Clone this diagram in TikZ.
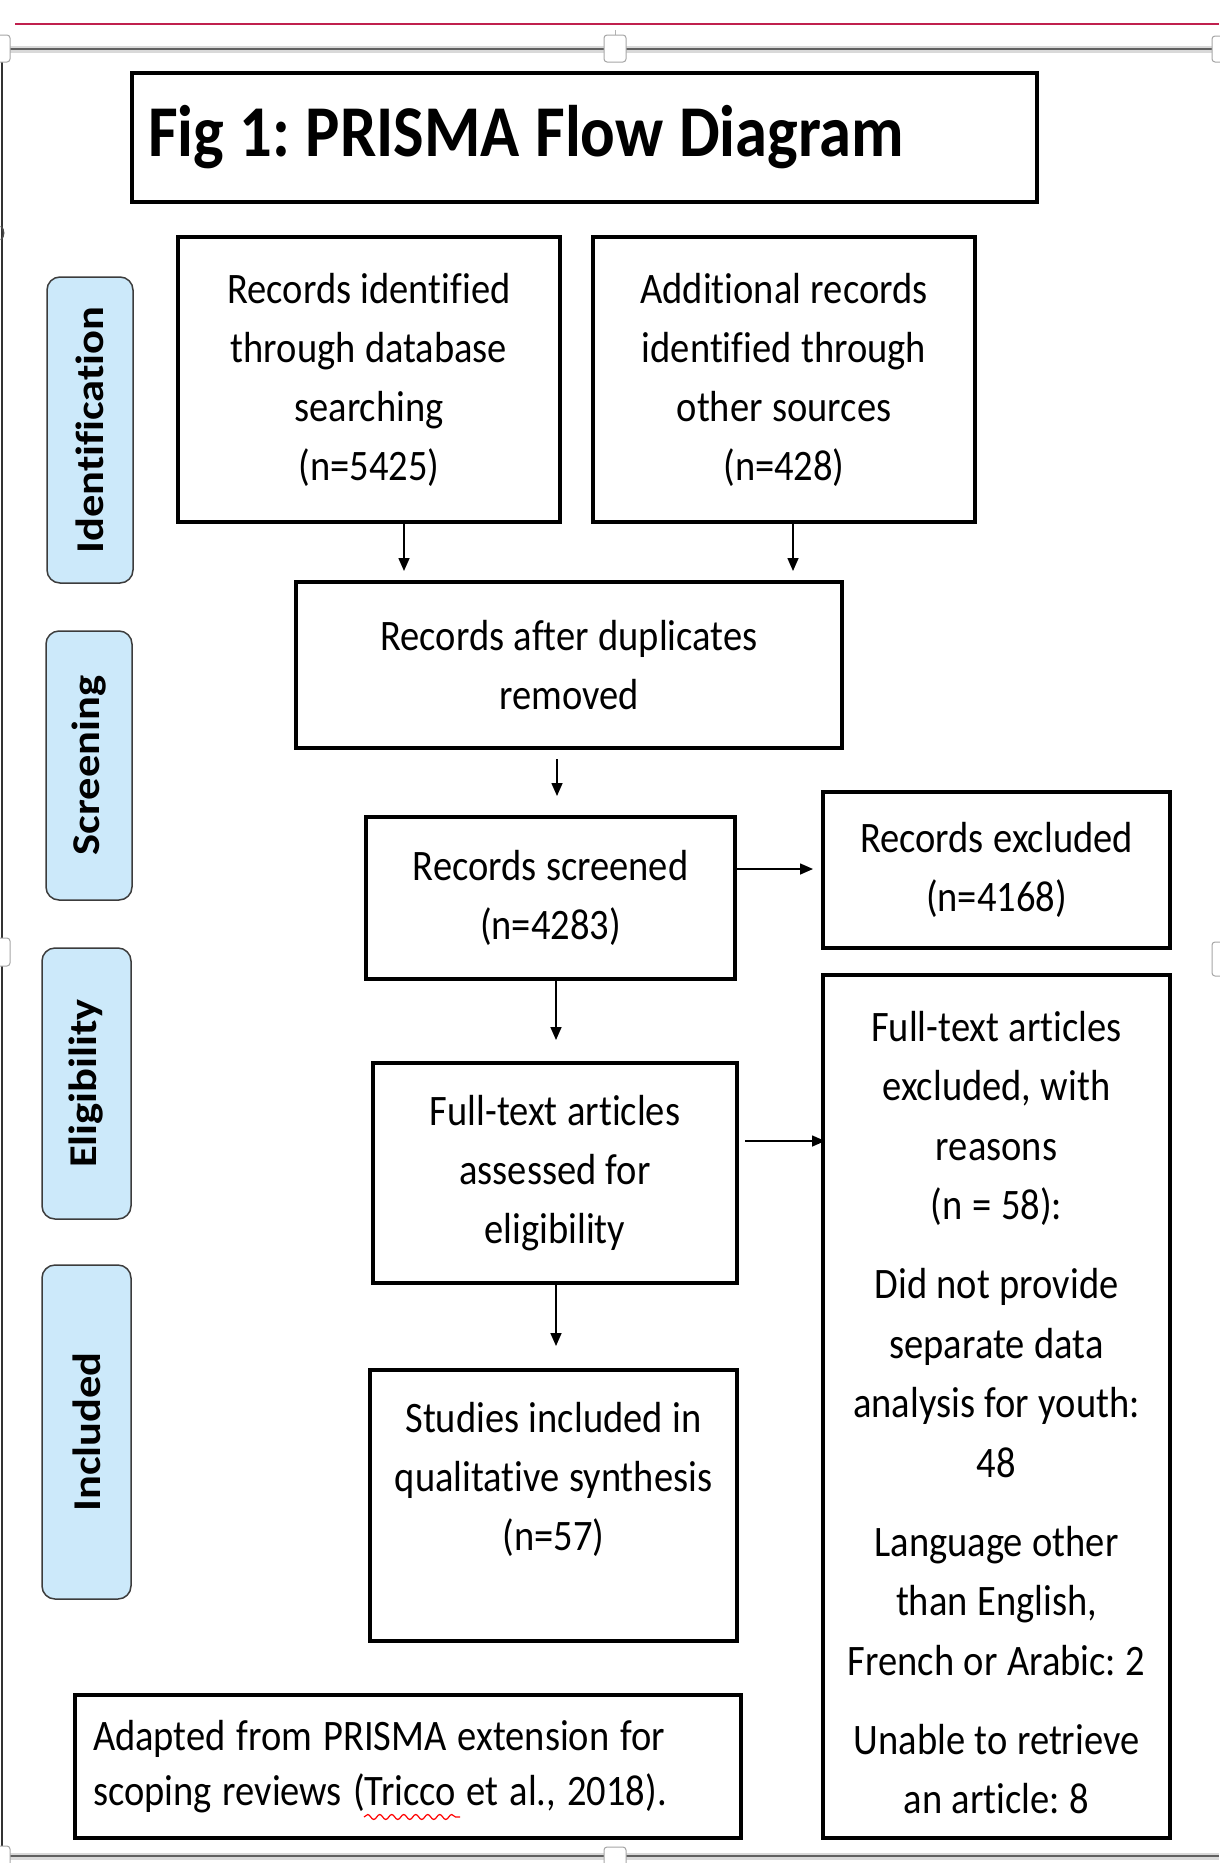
\documentclass[tikz,border=0pt]{standalone}
\usepackage{fontspec}
\setmainfont[FakeStretch=0.885, Ligatures=NoCommon]{Carlito}
\newfontfamily\labelfont[Ligatures=NoCommon]{Carlito}
\usepackage{graphicx}
\usetikzlibrary{arrows.meta,decorations.pathmorphing}
\definecolor{lblue}{HTML}{CCE9FA}
\definecolor{lborder}{HTML}{3C3C3C}
\definecolor{redline}{HTML}{C0204E}
\newcommand\bodyfont{\fontsize{43.5}{59}\selectfont\spaceskip=9.5pt\relax\xspaceskip=9.5pt\relax}
\newcommand\widefont{\fontsize{43.5}{59.5}\selectfont\spaceskip=9.5pt\relax\xspaceskip=9.5pt\relax}
\newcommand\notefont{\fontsize{43.5}{55}\selectfont\spaceskip=11pt\relax\xspaceskip=11pt\relax}
\newcommand\titlefont{\fontsize{73}{80}\selectfont\bfseries\spaceskip=15.5pt\relax\xspaceskip=15.5pt\relax}
\newcommand\phasefont{\labelfont\bfseries\fontsize{44.5}{50}\selectfont}
\begin{document}
\begin{tikzpicture}[x=1pt,y=-1pt,
  box/.style={draw, line width=4pt, inner sep=0pt, align=center, font=\bodyfont},
  phase/.style={draw=lborder, fill=lblue, line width=1.5pt, rounded corners=13pt, rotate=90, inner sep=0pt,
    font=\phasefont},
  arr/.style={line width=1.6pt, -{Triangle[length=13pt,width=11pt]}},
  handle/.style={draw=gray!70, fill=white, line width=1pt, rounded corners=3pt}]
\useasboundingbox (0,0) rectangle (1219,1863);
\fill[white] (0,0) rectangle (1219,1863);
% frame of the page
\draw[redline, line width=2pt] (15,24) -- (1219,24);
\draw[gray!30, line width=7pt] (0,49) -- (1219,49);
\draw[gray!75!black, line width=2.5pt] (0,49) -- (1219,49);
\draw[gray!30, line width=7pt] (0,1856) -- (1219,1856);
\draw[gray!75!black, line width=2.5pt] (0,1856) -- (1219,1856);
\draw[black!80, line width=2pt] (1.5,49) -- (1.5,1856);
\draw[gray!60!black, line width=1.5pt] (1,226) to[bend left=40] (1,240);
\draw[gray!60, line width=1pt] (615,30) -- (615,35);
\draw[handle] (-10,35) rectangle (10,62);
\draw[handle] (604,35) rectangle (626,62);
\draw[handle] (1212,36) rectangle (1232,62);
\draw[handle] (-10,938) rectangle (10,966);
\draw[handle] (1212,942) rectangle (1235,976);
\draw[handle] (-10,1846) rectangle (10,1872);
\draw[handle] (604,1847) rectangle (626,1872);
% title
\node[box, line width=4.5pt, minimum width=905pt, minimum height=129pt, text width=873pt, align=flush left,
  font=\titlefont] (title) at (584.5,137.5) {Fig 1: PRISMA Flow Diagram};
% phase labels
\node[phase, minimum width=306pt, minimum height=86pt] (pid) at (90,430) {\scalebox{1}[0.885]{Identification}};
\node[phase, minimum width=269pt, minimum height=86pt] (psc) at (89,765.5) {\scalebox{1}[0.885]{Screening}};
\node[phase, minimum width=271pt, minimum height=89pt] (pel) at (86.5,1083.5) {\scalebox{1}[0.885]{Eligibility}};
\node[phase, minimum width=334pt, minimum height=89pt] (pin) at (86.5,1432) {\scalebox{1}[0.885]{Included}};
% boxes
\node[box, minimum width=382pt, minimum height=285pt] (db) at (369,379.5)
  {Records identified\\through database\\searching\\(n=5425)};
\node[box, minimum width=382pt, minimum height=285pt] (add) at (784,379.5)
  {Additional records\\identified through\\other sources\\(n=428)};
\node[box, minimum width=546pt, minimum height=166pt] (dup) at (569,665)
  {Records after duplicates\\removed};
\node[box, minimum width=369pt, minimum height=162pt] (scr) at (550.5,898)
  {Records screened\\(n=4283)};
\node[box, minimum width=347pt, minimum height=156pt] (exc) at (996.5,870)
  {Records excluded\\(n=4168)};
\node[box, minimum width=364pt, minimum height=220pt] (fta) at (555,1173)
  {Full-text articles\\assessed for\\eligibility};
\node[box, minimum width=347pt, minimum height=863pt, font=\widefont] (fte) at (996.5,1406.5)
  {\rule{0pt}{42pt}Full-text articles\\excluded, with\\reasons\\(n = 58):\\[19.5pt]Did not provide\\separate data\\analysis for youth:\\48\\[19.5pt]Language other\\than English,\\French or Arabic: 2\\[19.5pt]Unable to retrieve\\an article: 8};
\node[box, minimum width=367pt, minimum height=271pt] (inc) at (553.5,1505.5)
  {Studies included in\\qualitative synthesis\\(n=57)\\~};
\node[box, minimum width=666pt, minimum height=143pt, text width=630pt, align=flush left,
  font=\notefont] (note) at (408,1766.5)
  {Adapted from PRISMA extension for\\scoping reviews (Tricco et al., 2018).};
\draw[red, line width=1.2pt, decorate, decoration={snake, amplitude=2.5pt, segment length=12pt}]
  ([xshift=291pt, yshift=23pt]note.south west) -- ++(96,0);
% connectors
\draw[arr, shorten >=9pt] ([xshift=35pt]db.south) -- ([xshift=35pt]db.south |- dup.north);
\draw[arr, shorten >=9pt] ([xshift=9pt]add.south) -- ([xshift=9pt]add.south |- dup.north);
\draw[arr, shorten <=9pt, shorten >=19pt] ([xshift=-12pt]dup.south) -- ([xshift=-12pt]dup.south |- scr.north);
\draw[arr, shorten <=-4pt, shorten >=8pt] ([yshift=29pt]scr.east) -- ([yshift=29pt]scr.east -| exc.west);
\draw[arr, shorten >=21pt] ([xshift=5.5pt]scr.south) -- ([xshift=5.5pt]scr.south |- fta.north);
\draw[arr, shorten <=6pt, shorten >=-4pt] ([yshift=32pt]fta.east) -- ([yshift=32pt]fta.east -| fte.west);
\draw[arr, shorten >=22pt] ([xshift=1pt]fta.south) -- ([xshift=1pt]fta.south |- inc.north);
\end{tikzpicture}
\end{document}
